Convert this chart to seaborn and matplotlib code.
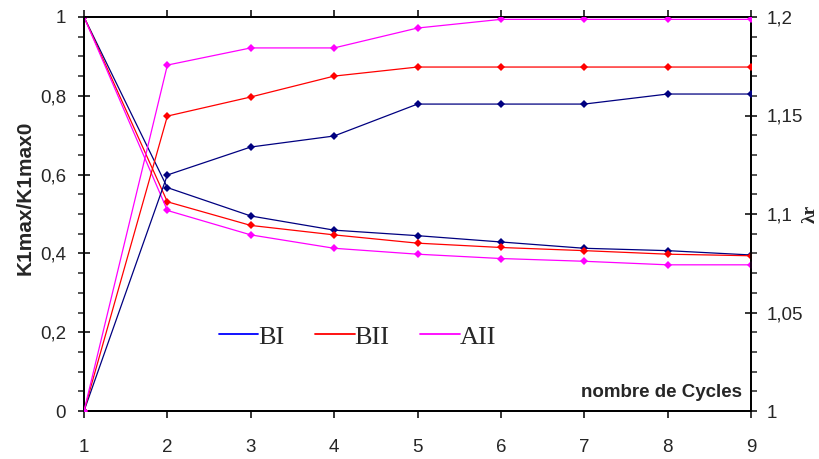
import numpy as np
import pandas as pd
import seaborn as sns
import matplotlib
matplotlib.use("Agg")
import matplotlib.pyplot as plt
from matplotlib.ticker import MultipleLocator, FuncFormatter
from matplotlib.lines import Line2D

sns.set_theme(style="ticks")
plt.rcParams['font.family'] = ['Liberation Sans', 'DejaVu Sans']

cycles = [1, 2, 3, 4, 5, 6, 7, 8, 9]
series = ["BI", "BII", "AII"]

# K1max/K1max0 (left axis)
k_BI = [1.0, 0.567, 0.495, 0.459, 0.445, 0.429, 0.413, 0.407, 0.396]
k_BII = [1.0, 0.531, 0.471, 0.447, 0.426, 0.415, 0.407, 0.398, 0.394]
k_AII = [1.0, 0.509, 0.447, 0.413, 0.398, 0.387, 0.380, 0.371, 0.371]

# lambda r (right axis)
l_BI = [1.0, 1.1198, 1.134, 1.1396, 1.1558, 1.1558, 1.1558, 1.1609, 1.1609]
l_BII = [1.0, 1.1497, 1.1594, 1.170, 1.1746, 1.1746, 1.1746, 1.1746, 1.1746]
l_AII = [1.0, 1.1756, 1.1843, 1.1843, 1.1944, 1.1988, 1.1988, 1.1988, 1.1988]

line_colors = {"BI": "#000080", "BII": "#FF0000", "AII": "#FF00FF"}
legend_colors = {"BI": "#0000FF", "BII": "#FF0000", "AII": "#FF00FF"}

df_k = pd.DataFrame({
    "cycle": cycles * 3,
    "value": k_BI + k_BII + k_AII,
    "serie": ["BI"] * 9 + ["BII"] * 9 + ["AII"] * 9,
})
df_l = pd.DataFrame({
    "cycle": cycles * 3,
    "value": l_BI + l_BII + l_AII,
    "serie": ["BI"] * 9 + ["BII"] * 9 + ["AII"] * 9,
})

fig = plt.figure(figsize=(8.19, 4.59), dpi=100)
ax = fig.add_axes([84/819, 1 - 411/459, (751 - 84)/819, (411 - 17)/459])
ax2 = ax.twinx()

sns.lineplot(data=df_k, x="cycle", y="value", hue="serie", palette=line_colors,
             marker="D", markersize=3.8, markeredgewidth=0, linewidth=0.9,
             ax=ax, legend=False, zorder=3)
sns.lineplot(data=df_l, x="cycle", y="value", hue="serie", palette=line_colors,
             marker="D", markersize=3.8, markeredgewidth=0, linewidth=0.9,
             ax=ax2, legend=False, zorder=3)

ax.set_xlim(1, 9)
ax.set_ylim(0, 1)
ax2.set_ylim(1, 1.2)
ax.set_xticks(cycles)

comma = FuncFormatter(lambda v, p: ('%g' % round(v, 3)).replace('.', ','))
ax.yaxis.set_major_locator(MultipleLocator(0.2))
ax.yaxis.set_minor_locator(MultipleLocator(0.05))
ax.yaxis.set_major_formatter(comma)
ax2.yaxis.set_major_locator(MultipleLocator(0.05))
ax2.yaxis.set_minor_locator(MultipleLocator(0.01))
ax2.yaxis.set_major_formatter(comma)

for a in (ax, ax2):
    for s in a.spines.values():
        s.set_visible(True)
        s.set_linewidth(1.3)
        s.set_color("black")

ax.tick_params(axis="x", which="both", direction="out", length=5, width=1.3,
               top=True, labeltop=False, labelsize=13.5, pad=15)
ax.tick_params(axis="y", which="major", direction="inout", length=9, width=1.3,
               labelsize=13.5, right=False, pad=8.5)
ax.tick_params(axis="y", which="minor", direction="out", length=4, width=1.1, right=False)
ax2.tick_params(axis="y", which="major", direction="inout", length=9, width=1.3,
                labelsize=13.5, pad=6.5)
ax2.tick_params(axis="y", which="minor", direction="out", length=4, width=1.1)

ax.set_xlabel("")
ax.set_ylabel("K1max/K1max0", fontsize=15, fontweight="bold", va="center", ha="center")
ax.yaxis.set_label_coords((25 - 84) / 667, 0.54)
ax2.set_ylabel("λr", fontsize=14, fontweight="bold", family=["Liberation Serif", "DejaVu Serif"],
               rotation=90, va="center", ha="center")
ax2.yaxis.set_label_coords((810 - 84) / 667, 0.5)

ax.text(0.9865, 0.048, "nombre de Cycles", transform=ax.transAxes, ha="right", va="center",
        fontsize=13.5, fontweight="bold")

handles = [Line2D([0], [0], color=legend_colors[s], lw=1.3) for s in series]
leg = ax.legend(handles, series, loc="center", bbox_to_anchor=(0.41, 0.188), ncol=3,
                frameon=False, handlelength=1.5, handletextpad=0.0, columnspacing=1.15,
                borderpad=0, prop={"family": "Liberation Serif", "size": 19})

fig.savefig("out.png", dpi=100)
